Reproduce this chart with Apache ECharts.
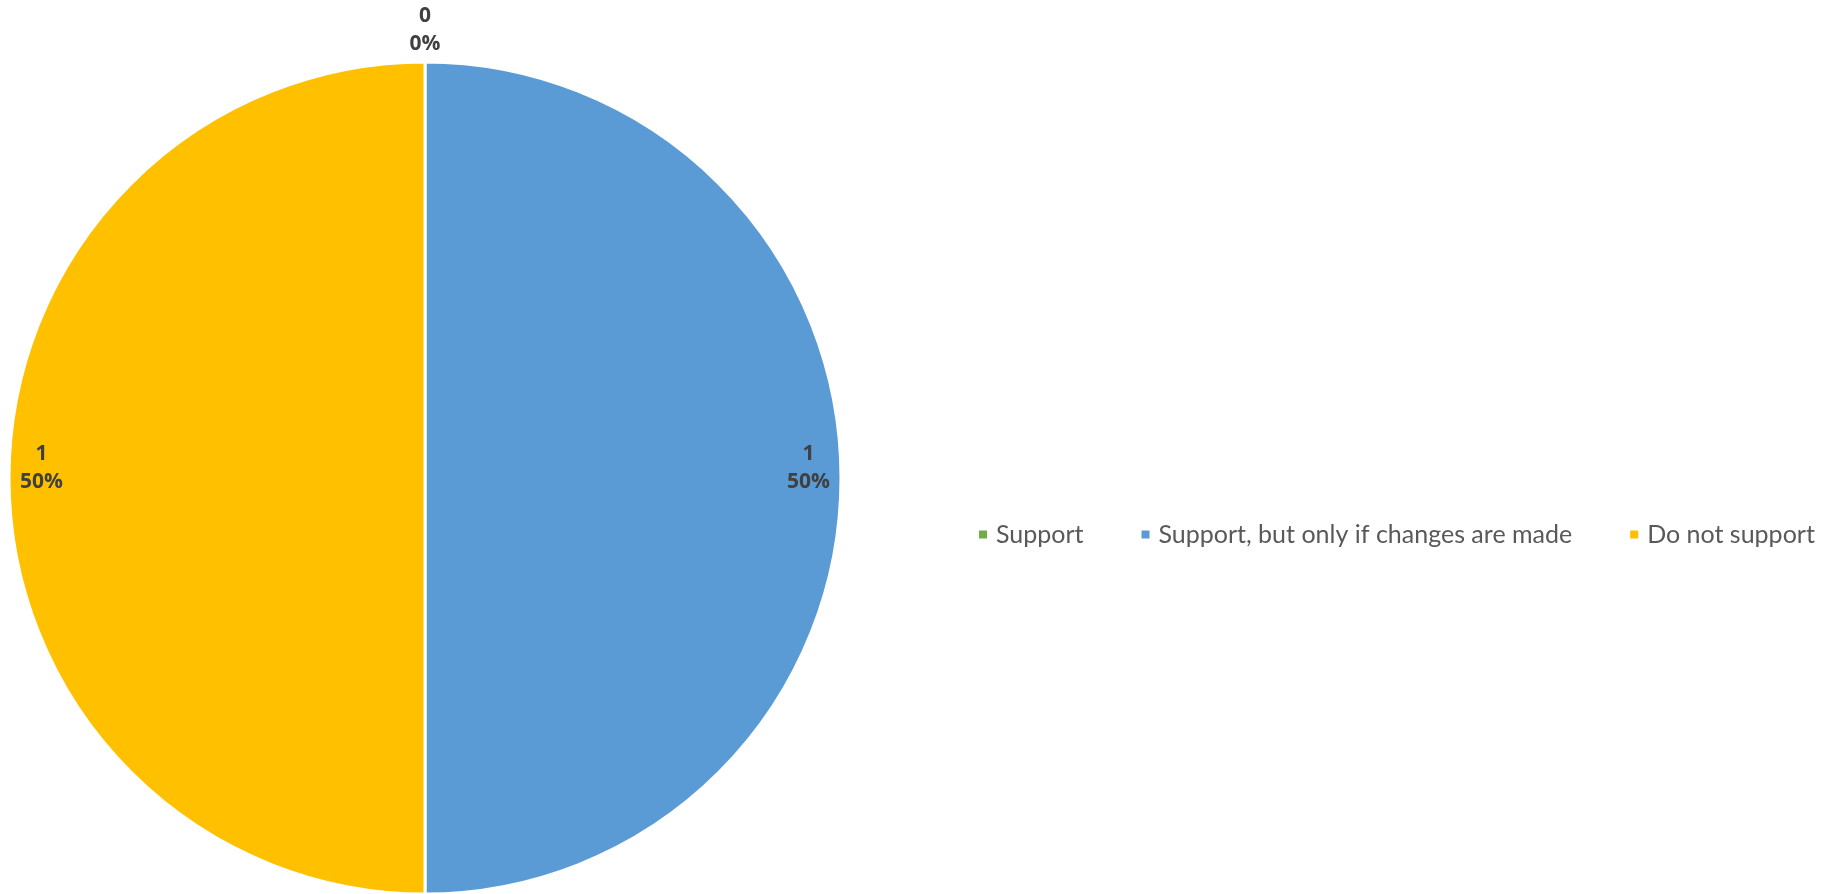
<!DOCTYPE html>
<html>
<head>
<meta charset="utf-8">
<title>Support pie</title>
<script src="https://cdn.jsdelivr.net/npm/echarts@6/dist/echarts.min.js"></script>
<style>
  html, body { margin: 0; padding: 0; background: #ffffff; }
  #chart { width: 1836px; height: 894px; }
</style>
</head>
<body>
<div id="chart"></div>
<script>
// Survey responses
const categories = ['Support', 'Support, but only if changes are made', 'Do not support'];
const counts = [0, 1, 1];
const colors = ['#70AD47', '#5B9BD5', '#FFC000'];

const total = counts.reduce((a, b) => a + b, 0);
const pieCenter = [425, 478];
const pieRadius = 416;

// mid-angle (degrees, counter-clockwise from +x) of each slice, clockwise from 12 o'clock
function midAngle(i) {
  let before = 0;
  for (let k = 0; k < i; k++) before += counts[k];
  return 90 - 360 * (before + counts[i] / 2) / total;
}

const chart = echarts.init(document.getElementById('chart'), null, { renderer: 'canvas' });

chart.setOption({
  animation: false,
  backgroundColor: '#ffffff',
  color: colors,
  legend: {
    orient: 'horizontal',
    left: 977,
    top: 522,
    padding: 0,
    itemWidth: 10,
    itemHeight: 10,
    itemGap: 56,
    icon: 'rect',
    selectedMode: false,
    textStyle: {
      fontFamily: 'Lato',
      fontSize: 25,
      color: '#595959',
      lineHeight: 24,
      padding: [0, 0, 0, 3]
    },
    data: categories
  },
  series: [{
    type: 'pie',
    center: pieCenter,
    radius: pieRadius,
    startAngle: 90,
    clockwise: true,
    silent: true,
    stillShowZeroSum: true,
    itemStyle: { borderColor: '#ffffff', borderWidth: 3 },
    label: {
      show: true,
      position: 'inside',
      formatter: p => p.value + '\n' + Math.round(p.percent) + '%',
      fontFamily: 'Open Sans',
      fontWeight: 'bold',
      fontSize: 21,
      lineHeight: 28,
      color: '#404040',
      align: 'center'
    },
    labelLine: { show: false },
    labelLayout: function (params) {
      const i = params.dataIndex;
      const empty = counts[i] === 0;
      const f = empty ? 1.078 : 0.922;
      const a = midAngle(i) * Math.PI / 180;
      return {
        x: pieCenter[0] + pieRadius * f * Math.cos(a),
        y: pieCenter[1] - pieRadius * f * Math.sin(a) - (empty ? 0 : 10),
        align: 'center',
        verticalAlign: 'middle'
      };
    },
    data: categories.map((name, i) => ({ name: name, value: counts[i] }))
  }]
});
</script>
</body>
</html>
